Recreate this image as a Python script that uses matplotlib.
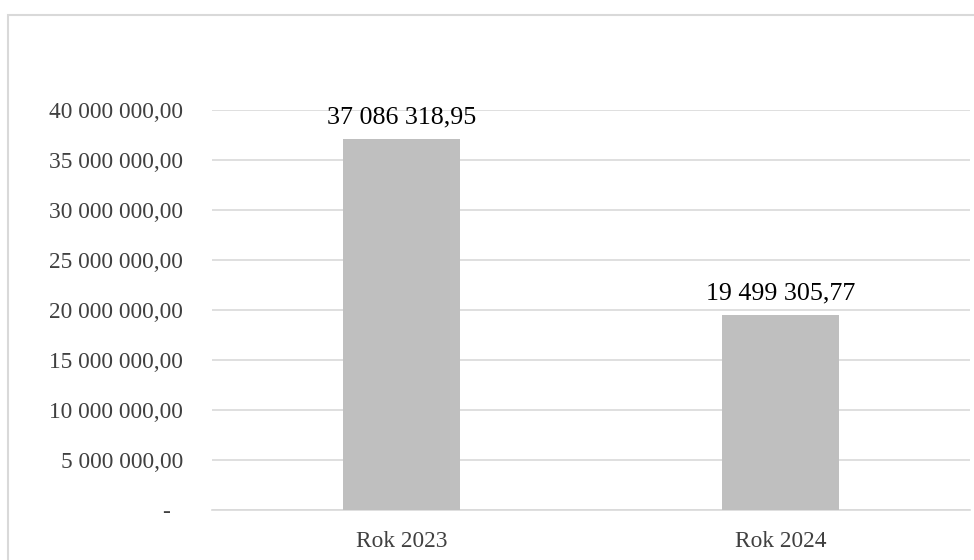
import matplotlib.pyplot as plt
from matplotlib.patches import Rectangle
from matplotlib.ticker import FuncFormatter, MultipleLocator

plt.rcParams['font.family'] = ['Liberation Serif', 'DejaVu Serif']

# Data
categories = ['Rok 2023', 'Rok 2024']
values = [37086318.95, 19499305.77]


def pl_format(v):
    # Polish style: space as thousands separator, comma as decimal mark
    s = f"{v:,.2f}"
    return s.replace(',', ' ').replace('.', ',')


def tick_fmt(v, pos):
    if abs(v) < 1e-6:
        return '-  '
    return pl_format(v)


fig = plt.figure(figsize=(9.74, 5.6), dpi=100)
ax = fig.add_axes([212 / 974, 1 - 510 / 560, (970 - 212) / 974, 400 / 560])

# outer chart border (right and bottom edges fall outside the image)
fig.patches.append(Rectangle((7.5 / 974, -0.1), 1.2, 1 - 15 / 560 + 0.1,
                             transform=fig.transFigure, fill=False,
                             edgecolor='#D9D9D9', linewidth=1.5))

x = range(len(categories))
bars = ax.bar(x, values, width=0.31, color='#BFBFBF', zorder=3)

for b, v in zip(bars, values):
    ax.annotate(pl_format(v), (b.get_x() + b.get_width() / 2, v),
                xytext=(0, 11.5), textcoords='offset points',
                ha='center', va='baseline', fontsize=18.7, color='black')

ax.set_xlim(-0.5, 1.5)
ax.set_ylim(0, 40000000)
ax.yaxis.set_major_locator(MultipleLocator(5000000))
ax.yaxis.set_major_formatter(FuncFormatter(tick_fmt))
ax.set_xticks(list(x))
ax.set_xticklabels(categories)

ax.grid(axis='y', color='#D9D9D9', linewidth=1.2, zorder=0)
for side in ['top', 'right', 'left']:
    ax.spines[side].set_visible(False)
ax.spines['bottom'].set_color('#D9D9D9')
ax.spines['bottom'].set_linewidth(1.2)
ax.tick_params(axis='both', length=0, labelsize=16.8, colors='#404040')
ax.tick_params(axis='y', pad=21)
ax.tick_params(axis='x', pad=15)

fig.savefig('out.png', dpi=100)
